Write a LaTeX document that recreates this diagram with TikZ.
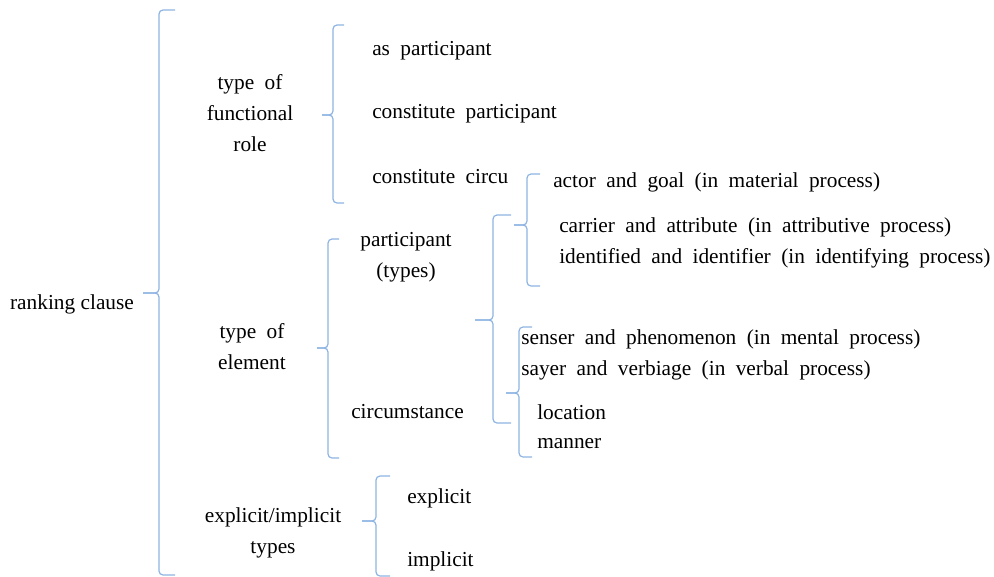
\documentclass[tikz,border=0pt]{standalone}
\usepackage{fontspec}
\setmainfont{Liberation Serif}
\newfontfamily\widefont[WordSpace=1.95]{Liberation Serif}
\definecolor{brc}{RGB}{141,180,226}
\tikzset{
    brace/.style={brc,line width=0.9pt,rounded corners=3pt},
    lab/.style={font=\widefont\fontsize{16}{23.25}\selectfont,inner sep=0pt,align=center,yshift=-1.8pt},
    item/.style={lab,anchor=west,align=left}
}
\begin{document}
\begin{tikzpicture}[x=0.75pt,y=-0.75pt]
    \useasboundingbox (0,0) rectangle (994,576);
    % braces: x / top / middle / bottom / width
    \foreach \x/\t/\m/\b/\w in {159/10/293/575/16,333/25/115/203/11,
        328/239/348/458/11,493/215/320/423/18,527/174/225/286/13,
        519/327/393/457/13,376/476/521/576/14} {
        \draw [brace] (\x+\w,\t) -- (\x,\t) -- (\x,\m) -- (\x-\w,\m);
        \draw [brace] (\x-\w,\m) -- (\x,\m) -- (\x,\b) -- (\x+\w,\b);
    }
    \node [lab,font=\fontsize{16}{23.25}\selectfont] (rank) at (72,302) {ranking clause};
    \node [lab] (role) at (250,111) {type of\\functional\\role};
    \node [lab] (elem) at (252,344.5) {type of\\element};
    \node [lab] (expl) at (273,530.5) {explicit/implicit\\types};
    \node [item] (aspart) at (372,48) {as participant};
    \node [item] (conpart) at (372,111) {constitute participant};
    \node [item] (concirc) at (372,174) {constitute circu};
    \node [lab] (parttyp) at (406,254.5) {participant\\(types)};
    \node [item] (circ) at (351,409) {circumstance};
    \node [item] (actor) at (553,180) {actor and goal (in material process)};
    \node [item] (carrier) at (559,225) {carrier and attribute (in attributive process)};
    \node [item] (ident) at (559,256) {identified and identifier (in identifying process)};
    \node [item] (senser) at (521,337) {senser and phenomenon (in mental process)};
    \node [item] (sayer) at (521,368) {sayer and verbiage (in verbal process)};
    \node [item] (loc) at (537,410) {location};
    \node [item] (manner) at (537,441) {manner};
    \node [item] (explicit) at (407,496) {explicit};
    \node [item] (implicit) at (407,559) {implicit};
\end{tikzpicture}
\end{document}
